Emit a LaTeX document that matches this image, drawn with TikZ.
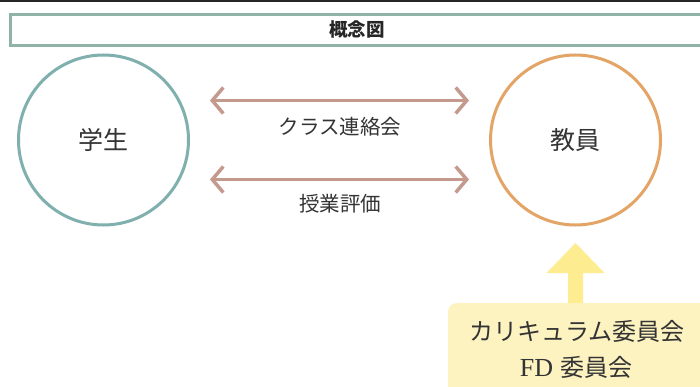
\documentclass[tikz,border=0pt]{standalone}
\usepackage{fontspec}
\setmainfont{Liberation Serif}
\newfontfamily\cjk{Noto Sans CJK JP}
\usetikzlibrary{arrows.meta}
\definecolor{titleline}{HTML}{8FB3A6}
\definecolor{tealc}{HTML}{7FB0AE}
\definecolor{orangec}{HTML}{E3A466}
\definecolor{rosec}{HTML}{C49A8E}
\definecolor{yelarrow}{HTML}{FDEC90}
\definecolor{yelbox}{HTML}{FDF3C1}
\definecolor{txt}{HTML}{333333}
\tikzset{
  party/.style={circle, line width=3pt, minimum size=170pt, inner sep=0pt,
    font=\cjk\fontsize{25}{29}\selectfont, text=txt},
  linkarrow/.style={draw=rosec, line width=3.5pt,
    {Straight Barb[length=11pt,width=26pt,line width=3.5pt]}-{Straight Barb[length=11pt,width=26pt,line width=3.5pt]}},
  linklabel/.style={font=\cjk\fontsize{20.5}{24}\selectfont, text=txt, inner sep=0pt},
  boxtext/.style={font=\fontsize{24}{28}\selectfont, text=txt, inner sep=0pt},
}
\begin{document}
\begin{tikzpicture}[x=1pt,y=-1pt]
\useasboundingbox (0,0) rectangle (700,387);
\fill[white] (0,0) rectangle (700,387);
% top rule
\draw[line width=2.5pt, draw=black!85] (0,0.5) -- (700,0.5);
% title box
\node[draw=titleline, line width=2.5pt, minimum width=720pt, minimum height=31pt,
  anchor=north west, inner sep=0pt] (titlebox) at (9,13.5) {};
\node[font=\cjk\bfseries\fontsize{18.5}{22}\selectfont, text=black!85, inner sep=0pt] (title) at (357,29) {概念図};
% circles
\node[party, draw=tealc] (student) at (103.5,140) {学生};
\node[party, draw=orangec] (teacher) at (575.5,140) {教員};
% connectors
\coordinate (a1s) at (210,100.5);
\coordinate (a1e) at (469,100.5);
\coordinate (a2s) at (210,179.5);
\coordinate (a2e) at (469,179.5);
\draw[linkarrow] (a1s) -- (a1e);
\draw[linkarrow] (a2s) -- (a2e);
\node[linklabel] (l1) at (340,127) {クラス連絡会};
\node[linklabel] (l2) at (340,204) {授業評価};
% committee box
\node[fill=yelbox, rounded corners=8pt, minimum width=280pt, minimum height=100pt,
  anchor=north west, inner sep=0pt] (boxbg) at (448,303) {};
\node[boxtext] (c1) at (577,331) {\cjk カリキュラム委員会};
\node[boxtext] (c2) at (576,367) {{\fontsize{26}{28}\selectfont FD}\hspace*{7pt}{\cjk 委員会}};
% yellow arrow
\coordinate (ytip) at (575.5,243);
\fill[yelarrow] (ytip) -- (604.5,273) -- (583,273) -- (583,303) -- (568,303) -- (568,273) -- (546.5,273) -- cycle;
\end{tikzpicture}
\end{document}
